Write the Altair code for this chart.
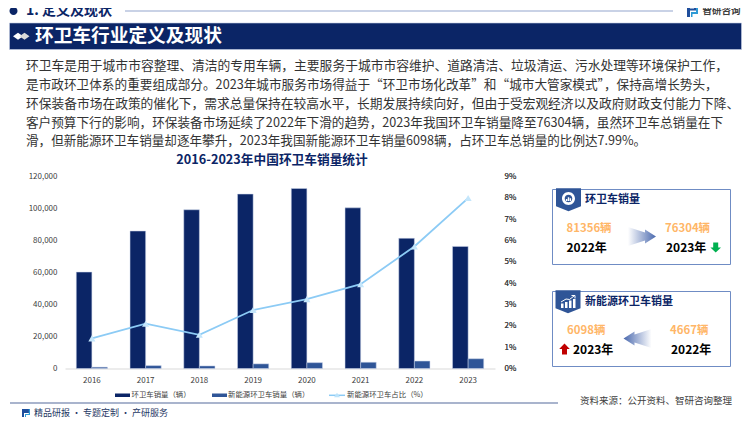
import altair as alt
import pandas as pd

years = ["2016", "2017", "2018", "2019", "2020", "2021", "2022", "2023"]
total_sales = [60250, 85900, 99200, 109000, 112500, 100400, 81356, 76304]
ne_sales = [840, 1800, 1590, 2900, 3650, 3900, 4667, 6098]
ne_share = [1.41, 2.10, 1.58, 2.74, 3.25, 3.95, 5.72, 7.99]
series_names = ["环卫车销量（辆）", "新能源环卫车销量（辆）"]
line_name = "新能源环卫车占比（%）"
chart_title = "2016-2023年中国环卫车销量统计"
body_lines = [
    "环卫车是用于城市市容整理、清洁的专用车辆，主要服务于城市市容维护、道路清洁、垃圾清运、污水处理等环境保护工作，",
    "是市政环卫体系的重要组成部分。2023年城市服务市场得益于“环卫市场化改革”和“城市大管家模式”，保持高增长势头，",
    "环保装备市场在政策的催化下，需求总量保持在较高水平，长期发展持续向好，但由于受宏观经济以及政府财政支付能力下降、",
    "客户预算下行的影响，环保装备市场延续了2022年下滑的趋势，2023年我国环卫车销量降至76304辆，虽然环卫车总销量在下",
    "滑，但新能源环卫车销量却逐年攀升，2023年我国新能源环卫车销量6098辆，占环卫车总销量的比例达7.99%。",
]
body_sizes = [12.78, 12.65, 12.74, 12.63, 12.59]

FONT = "Noto Sans CJK SC"
NAVY = "#0B2566"
BLUE = "#2F5597"
ORIGIN_X, ORIGIN_Y = 65, 176.5
PLOT_W, PLOT_H = 430, 192
blank = alt.Data(values=[{"k": 0}])


def vx(x):
    return alt.value(x - ORIGIN_X)


def vy(y):
    return alt.value(y - ORIGIN_Y)


def text(x, y, s, size=8, color="#404040", weight="normal", align="left"):
    return alt.Chart(blank).mark_text(
        font=FONT, fontSize=size, color=color, fontWeight=weight, align=align, baseline="middle"
    ).encode(x=vx(x), y=vy(y), text=alt.value(s))


def box(x0, x1, y0, y1, fill=None, stroke=None, sw=1):
    kw = {"fill": fill if fill else "transparent"}
    if stroke:
        kw.update(stroke=stroke, strokeWidth=sw)
    return alt.Chart(blank).mark_rect(**kw).encode(x=vx(x0), x2=vx(x1), y=vy(y0), y2=vy(y1))


def hline(x0, x1, y, color, sw):
    return alt.Chart(blank).mark_rule(color=color, strokeWidth=sw).encode(x=vx(x0), x2=vx(x1), y=vy(y))


def glyph(x, y, path, fill=None, stroke=None, sw=1):
    kw = dict(shape=path, size=4, opacity=1)
    if fill is not None:
        kw.update(filled=True, fill=fill, strokeWidth=0)
    if stroke is not None:
        kw.update(filled=False, stroke=stroke, strokeWidth=sw)
    return alt.Chart(blank).mark_point(**kw).encode(x=vx(x), y=vy(y))


bars_df = pd.DataFrame({
    "year": years * 2,
    "series": [series_names[0]] * 8 + [series_names[1]] * 8,
    "value": total_sales + ne_sales,
})
line_df = pd.DataFrame({"year": years, "share": ne_share})

x_scale = alt.Scale(domain=years, paddingInner=0.42, paddingOuter=0.21)

bars = alt.Chart(bars_df).mark_bar(stroke="#C9D3E8", strokeWidth=0.5).encode(
    x=alt.X("year:N", scale=x_scale, title=None, axis=alt.Axis(
        labelAngle=0, ticks=False, domainColor="#D9D9D9", domainWidth=1, labelFont=FONT,
        labelFontSize=8, labelColor="#404040", labelPadding=8)),
    xOffset=alt.XOffset("series:N", sort=series_names),
    y=alt.Y("value:Q", scale=alt.Scale(domain=[0, 120000]), title=None, axis=alt.Axis(
        orient="left", values=list(range(0, 120001, 20000)), grid=False, domain=False, ticks=False,
        labelFont=FONT, labelFontSize=8, labelColor="#404040", labelPadding=8)),
    color=alt.Color("series:N", sort=series_names, legend=None,
                    scale=alt.Scale(domain=series_names, range=[NAVY, BLUE])),
)

y_right = alt.Y("share:Q", scale=alt.Scale(domain=[0, 9]), title=None, axis=alt.Axis(
    orient="right", values=list(range(0, 10)), labelExpr="datum.value + '%'", grid=False,
    domain=False, ticks=False, labelFont=FONT, labelFontSize=8, labelColor="#404040", labelPadding=9))
x_line = alt.X("year:N", scale=x_scale, title=None)

line = alt.Chart(line_df).mark_line(color="#8CCBF5", strokeWidth=1.8, interpolate="linear").encode(x=x_line, y=y_right)
points = alt.Chart(line_df).mark_point(
    shape="triangle-up", filled=True, fill="#C4E6FB", size=50, opacity=1, strokeWidth=0
).encode(x=x_line, y=y_right)

# --- page furniture ---
PENT = "M-12.5,-11.5 L12.5,-11.5 L12.5,6.5 L0,11.5 L-12.5,6.5 Z"
ARROW_R = "M-14,-9.5 L3,-4 L3,-7 L14,0 L3,7 L3,4 L-14,9.5 Z"
ARROW_L = "M14,-9.5 L-3,-4 L-3,-7 L-14,0 L-3,7 L-3,4 L14,9.5 Z"
DOWN = "M-2.5,-5 L2.5,-5 L2.5,0 L5.3,0 L0,5 L-5.3,0 L-2.5,0 Z"
UP = "M-2.5,5.5 L2.5,5.5 L2.5,0 L5.3,0 L0,-5.5 L-5.3,0 L-2.5,0 Z"
DIAMOND = "M-5,0 L0,-3.5 L5,0 L0,3.5 Z"
RING = "M0,-6.5 A6.5,6.5 0 1 1 -0.01,-6.5 Z M0,-3.8 A3.8,3.8 0 1 0 0.01,-3.8 Z"
MINI_BARS = "M-2.6,2.4 L-1.2,2.4 L-1.2,0.6 L-2.6,0.6 Z M-0.7,2.4 L0.7,2.4 L0.7,-1.2 L-0.7,-1.2 Z M1.2,2.4 L2.6,2.4 L2.6,-0.2 L1.2,-0.2 Z"
GROW_BARS = "M-7,6 L-4.5,6 L-4.5,1.5 L-7,1.5 Z M-3,6 L-0.5,6 L-0.5,0 L-3,0 Z M1,6 L3.5,6 L3.5,-1.5 L1,-1.5 Z M5,6 L7.5,6 L7.5,-3 L5,-3 Z"
GROW_LINE = "M-7,0 L-2,-3 L1.5,-2.5 L6,-6 M3.5,-6.5 L7,-6.5 L7,-3.5"
LOGO_A = "M-5.5,-6 L4,-6 L4,-0.5 L-2.5,-0.5 L-2.5,6 L-5.5,6 Z M-2.5,-4 L-2.5,-2.5 L1.5,-2.5 L1.5,-4 Z"
LOGO_B = "M5.5,-6 L5.5,3 L0,3 L0,6 L5.5,6 L-1.5,6 L-1.5,1 L3.5,1 L3.5,-6 Z"

grad_r = alt.Gradient(gradient="linear", x1=0, x2=1, y1=0, y2=0,
                      stops=[alt.GradientStop(color="#FFFFFF", offset=0), alt.GradientStop(color="#4A69AE", offset=1)])
grad_l = alt.Gradient(gradient="linear", x1=0, x2=1, y1=0, y2=0,
                      stops=[alt.GradientStop(color="#4A69AE", offset=0), alt.GradientStop(color="#FFFFFF", offset=1)])

ORANGE = "#FFB667"
CARD = "#6F8CC4"
layers = [bars, line, points]
layers += [
    glyph(13.5, 11, "M-4,0 A4,4 0 1 1 4,0 A4,4 0 1 1 -4,0 Z", fill=NAVY),
    text(26, 11, "1. 定义及现状", 14, NAVY, "bold"),
    hline(125, 673, 11, "#93A5CE", 1.2),
    glyph(692.5, 11, LOGO_A, fill="#1F4E9C"),
    glyph(692.5, 11, LOGO_B, fill="#2E9BD6"),
    text(702.5, 10.5, "智研咨询", 9.5, "#404040", "bold"),
    box(9.5, 741.5, 23, 49.5, fill=NAVY, stroke="#C5CFE4", sw=0.6),
    glyph(18, 36.3, DIAMOND, fill="#FFFFFF"),
    glyph(24.5, 36.3, DIAMOND, fill="#D9D9D9"),
    text(35, 35.8, "环卫车行业定义及现状", 18.7, "#FFFFFF", "bold"),
]
for i, s in enumerate(body_lines):
    layers.append(text(26, 66.3 + 18.75 * i, s, body_sizes[i], "#333333"))
layers += [
    text(272, 160, chart_title, 12.7, NAVY, "bold", "center"),
    # legend
    box(115, 130, 393.5, 397, fill=NAVY),
    text(131.5, 395.3, series_names[0], 7.4),
    box(212, 227, 393.5, 397, fill=BLUE),
    text(228, 395.3, series_names[1], 7.4),
    hline(329, 345, 395.3, "#8CCBF5", 1.5),
    glyph(337, 395.3, "M-3,2 L3,2 L0,-2.5 Z", fill="#BDE3FA"),
    text(347, 395.3, line_name, 7.4),
    # footer
    hline(10, 558, 403, "#8C9BBC", 1.6),
    text(580, 400.5, "资料来源：公开资料、智研咨询整理", 9.5, "#404040"),
    glyph(26, 413, "M-4,-4 L3,-4 L3,0 L-2,0 L-2,4 L-4,4 Z", fill="#1F4E9C"),
    glyph(26, 413, "M4,-4 L4,2 L0,2 L0,4 L-1,4 L-1,1 L2.8,1 L2.8,-4 Z", fill="#2E9BD6"),
    text(34, 413, "精品研报 · 专题定制 · 产研服务", 9, "#1F3864"),
    # card 1
    box(552.5, 730.5, 189.5, 264.5, stroke=CARD, sw=1),
    glyph(568.5, 199.8, PENT, fill=BLUE),
    glyph(568.5, 198.5, RING, fill="#FFFFFF"),
    glyph(568.5, 198.5, MINI_BARS, fill="#FFFFFF"),
    text(585, 199.5, "环卫车销量", 11, NAVY, "bold"),
    text(566.5, 229, "81356辆", 11.4, ORANGE, "bold"),
    text(665, 229, "76304辆", 11.4, ORANGE, "bold"),
    text(566.5, 248, "2022年", 12, "#000000", "bold"),
    text(666, 248, "2023年", 12, "#000000", "bold"),
    glyph(642, 236.5, ARROW_R, fill=grad_r),
    glyph(715.7, 247.5, DOWN, fill="#00B050"),
    # card 2
    box(552.5, 730.5, 291.5, 366.5, stroke=CARD, sw=1),
    glyph(568, 301.8, PENT, fill=BLUE),
    glyph(568, 302, GROW_BARS, fill="#FFFFFF"),
    glyph(568, 302, GROW_LINE, stroke="#FFFFFF", sw=1),
    text(585, 302, "新能源环卫车销量", 11, NAVY, "bold"),
    text(567, 331, "6098辆", 11.4, ORANGE, "bold"),
    text(670, 331, "4667辆", 11.4, ORANGE, "bold"),
    text(573, 350, "2023年", 12, "#000000", "bold"),
    text(671, 350, "2022年", 12, "#000000", "bold"),
    glyph(637.5, 338.5, ARROW_L, fill=grad_l),
    glyph(564.5, 349, UP, fill="#C00000"),
]

chart = (
    alt.layer(*layers)
    .resolve_scale(y="independent")
    .properties(
        width=PLOT_W,
        height=PLOT_H,
        autosize=alt.AutoSizeParams(type="none"),
        padding={"left": ORIGIN_X - 8, "top": ORIGIN_Y - 8, "right": 742 - ORIGIN_X - PLOT_W,
                 "bottom": 421 - ORIGIN_Y - PLOT_H},
        usermeta={"embedOptions": {"defaultStyle": "svg{overflow:visible} .vega-embed{display:block}"}},
    )
    .configure_view(stroke=None)
)

chart.save("out.html", embed_options={"renderer": "svg", "actions": False})
